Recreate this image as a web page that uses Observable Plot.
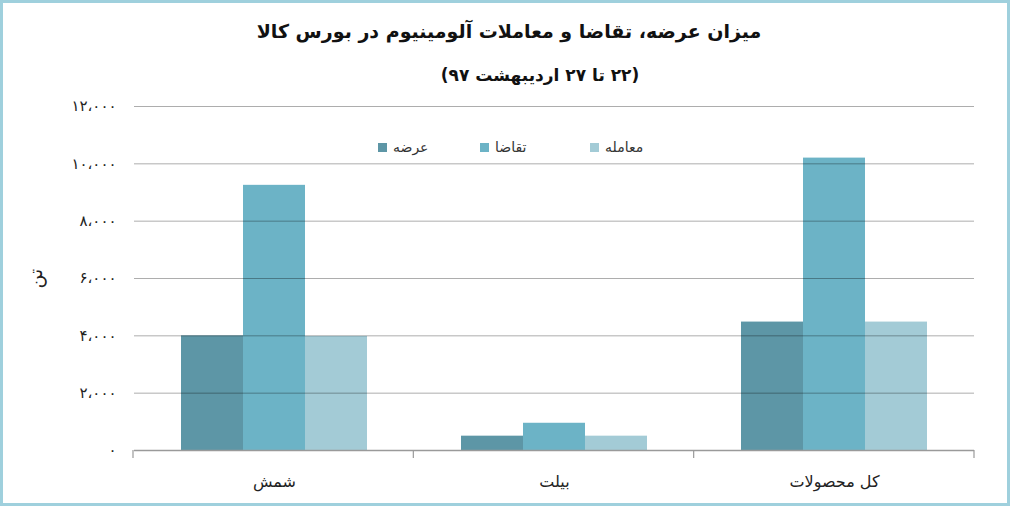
<!DOCTYPE html>
<html>
<head>
<meta charset="utf-8">
<script src="https://cdn.jsdelivr.net/npm/d3@7"></script>
<script src="https://cdn.jsdelivr.net/npm/@observablehq/plot@0.6"></script>
<style>
  body { margin: 0; background: #fff; }
  #wrap { position: relative; width: 1010px; height: 506px; overflow: hidden; background: #fff; font-family: "DejaVu Sans", sans-serif; }
  #chart { position: absolute; left: 0; top: 0; }
  #frame { position: absolute; left: 0; top: 0; width: 1010px; height: 506px; box-sizing: border-box; border: 3px solid #9fd0dd; pointer-events: none; }
  .title { position: absolute; white-space: nowrap; direction: rtl; color: #111; font-weight: bold; transform: translate(-50%, -50%); }
  .lg { position: absolute; display: flex; align-items: center; gap: 6px; font-size: 14px; color: #333; transform: translateY(-50%); white-space: nowrap; }
  .lg .sw { width: 9px; height: 9px; display: inline-block; }
</style>
</head>
<body>
<div id="wrap">
  <div id="chart"></div>
  <div class="title" style="left:509px; top:31px; font-size:19px;">میزان عرضه، تقاضا و معاملات آلومینیوم در بورس کالا</div>
  <div class="title" style="left:540px; top:75px; font-size:17px;">(۲۲ تا ۲۷ اردیبهشت ۹۷)</div>
  <div id="legend"></div>
  <div id="frame"></div>
</div>
<script>
// ---- data ----
const categories = ["شمش", "بیلت", "کل محصولات"];
const series = ["عرضه", "تقاضا", "معامله"];
const supply = [4000, 500, 4480];
const demand = [9250, 950, 10200];
const trade  = [3980, 500, 4480];
const yTicks = [0, 2000, 4000, 6000, 8000, 10000, 12000];
const colors = ["#5d96a6", "#6cb3c6", "#a3cbd6"];
const yLabel = "تن";

const valuesBySeries = [supply, demand, trade];
const data = categories.flatMap((c, i) =>
  series.map((s, j) => ({ category: c, series: s, value: valuesBySeries[j][i] }))
);

const faDigits = "۰۱۲۳۴۵۶۷۸۹";
const fa = d => d3.format(",")(d).replace(/,/g, "،").replace(/\d/g, c => faDigits[c]);

const chart = Plot.plot({
  width: 1010,
  height: 506,
  marginTop: 106,
  marginBottom: 56,
  marginLeft: 133,
  marginRight: 36,
  style: { fontFamily: "DejaVu Sans, sans-serif", background: "transparent", color: "#222" },
  fx: { domain: categories, padding: 0, label: null },
  x: { domain: series, paddingInner: 0, paddingOuter: 0.75, axis: null },
  y: { domain: [0, 12000] },
  color: { domain: series, range: colors },
  marks: [
    Plot.barY(data, { fx: "category", x: "series", y: "value", fill: "series" }),
    Plot.ruleY(yTicks.filter(d => d > 0), { stroke: "#000", strokeOpacity: 0.32 }),
    Plot.ruleY([0], { stroke: "#9a9a9a", strokeWidth: 1.6 }),
    Plot.axisY({ ticks: yTicks, tickFormat: fa, tickSize: 0, tickPadding: 18, fontSize: 15,
                 label: yLabel, labelAnchor: "center", labelOffset: 106, labelArrow: "none" }),
    Plot.axisFx({ anchor: "bottom", tickSize: 0, tickPadding: 25, fontSize: 16, label: null })
  ]
});
document.getElementById("chart").appendChild(chart);

// enlarge the y-axis label text
d3.select(chart).selectAll("g[aria-label='y-axis label'] text").style("font-size", "19px");

// category separator ticks below the baseline, at fx band boundaries
const fxs = chart.scale("fx");
const yS = chart.scale("y");
const [r0, r1] = fxs.range;
const step = (r1 - r0) / categories.length;
const base = yS.apply(0);
const svg = d3.select(chart);
const g = svg.append("g").attr("stroke", "#9a9a9a").attr("stroke-width", 1.2);
for (let k = 0; k <= categories.length; k++) {
  const xx = r0 + k * step;
  g.append("line").attr("x1", xx).attr("x2", xx).attr("y1", base).attr("y2", base + 8);
}

// legend
const legendX = [378, 480, 590];
const legend = document.getElementById("legend");
series.forEach((s, i) => {
  const d = document.createElement("div");
  d.className = "lg";
  d.style.left = legendX[i] + "px";
  d.style.top = "147px";
  d.innerHTML = `<span class="sw" style="background:${colors[i]}"></span><span>${s}</span>`;
  legend.appendChild(d);
});
</script>
</body>
</html>
